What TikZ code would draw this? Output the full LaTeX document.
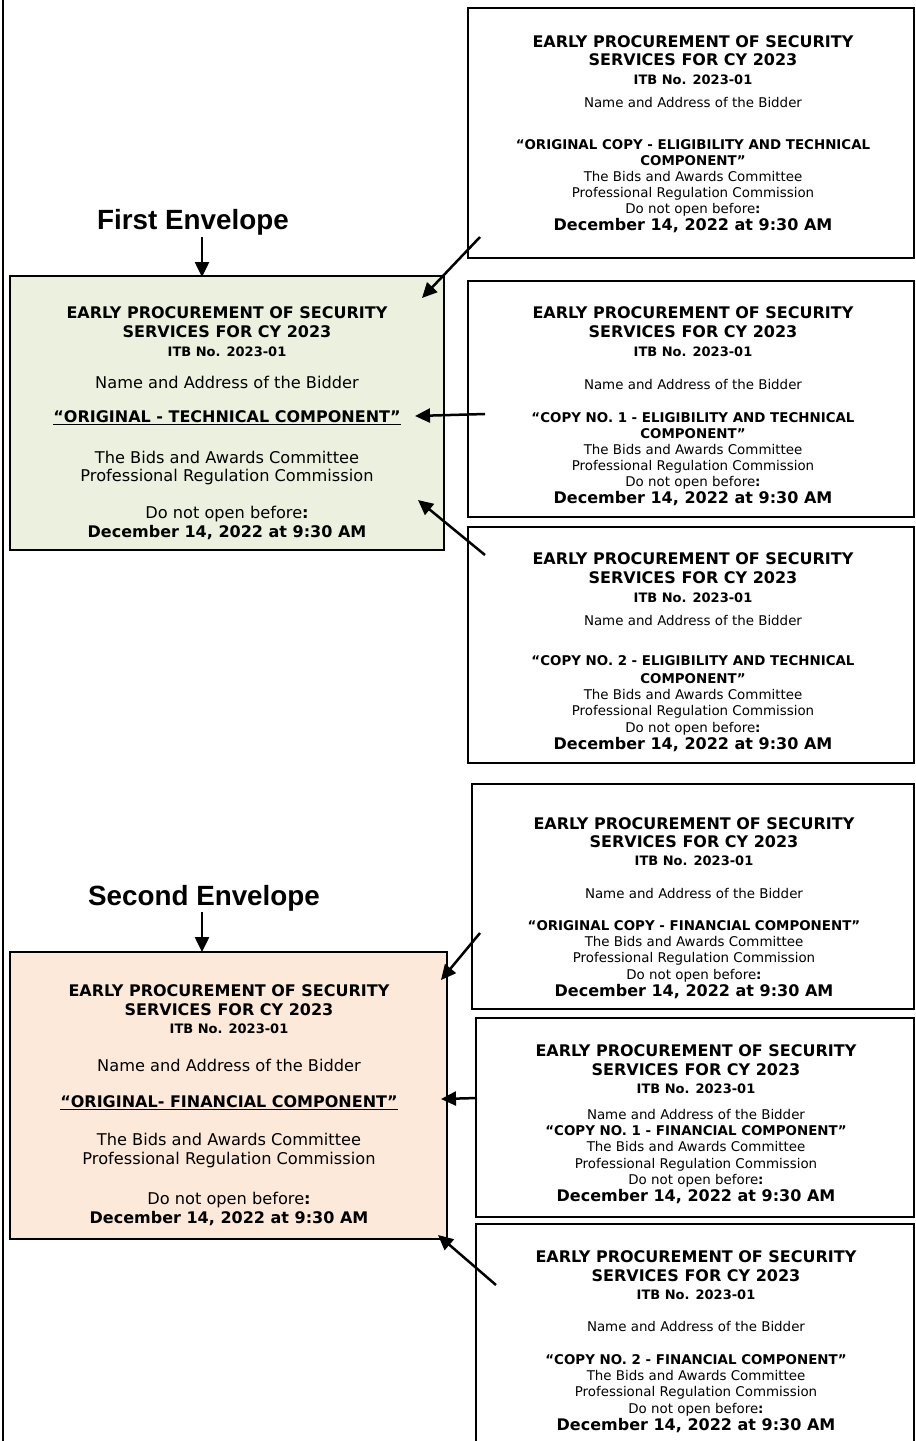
\documentclass[tikz,border=0pt]{standalone}
\usepackage{fontspec}
\setmainfont{DejaVu Sans}
\newfontfamily\lblfont{Liberation Sans}
\usetikzlibrary{arrows.meta}
\definecolor{envgreen}{HTML}{EBF1DE}
\definecolor{envpeach}{HTML}{FDE9D9}
\newcommand\ulq[1]{\setbox0\hbox{#1}\rlap{\rule[-1.3pt]{\wd0}{0.65pt}}\box0}
\newcommand\cardhead[5]{%
  \node[ttl] (#1t1) at (#2,#3) {EARLY PROCUREMENT OF SECURITY};
  \node[ttl] (#1t2) at (#2,#4) {SERVICES FOR CY 2023};
  \node[itb] (#1t3) at (#2,#5) {ITB No. 2023-01};}
\newcommand\cardtail[7]{%
  \node[#3] (#1b) at (#2,#4) {The Bids and Awards Committee};
  \node[#3] (#1p) at (#2,#5) {Professional Regulation Commission};
  \node[#3] (#1d) at (#2,#6) {Do not open before\textbf{:}};
  \node[dec] (#1e) at (#2,#7) {December 14, 2022 at 9:30 AM};}
\tikzset{
  box/.style={draw=black, line width=1pt, inner sep=0pt},
  ln/.style={inner sep=0pt, text height=0.73em, text depth=0pt},
  ttl/.style={ln, font=\bfseries\fontsize{8}{9}\selectfont},
  itb/.style={ln, font=\bfseries\fontsize{6.5}{8}\selectfont},
  sm/.style={ln, font=\fontsize{6.7}{8}\selectfont},
  smb/.style={ln, font=\bfseries\fontsize{6.7}{8}\selectfont},
  dec/.style={ln, font=\bfseries\fontsize{8}{9}\selectfont},
  big/.style={ln, font=\fontsize{8.1}{9}\selectfont},
  bigb/.style={ln, font=\bfseries\fontsize{8}{9}\selectfont},
  lbl/.style={ln, font=\lblfont\bfseries\fontsize{13.9}{16}\selectfont},
  arr/.style={line width=1.25pt, -{Triangle[length=7.5pt,width=7pt]}},
}
\begin{document}
\begin{tikzpicture}[x=0.5pt,y=-0.5pt]
\useasboundingbox (0,0) rectangle (916,1441);
\clip (0,0) rectangle (916,1441);
\fill[white] (0,0) rectangle (916,1441);

% left rule
\coordinate (ltop) at (3,-5);
\coordinate (lbot) at (3,1446);
\draw[line width=1pt] (ltop) -- (lbot);

% ---------- boxes ----------
\node[box, minimum width=223pt, minimum height=125pt] (boxA) at (691,133) {};
\node[box, minimum width=223pt, minimum height=118pt] (boxB) at (691,399) {};
\node[box, minimum width=223pt, minimum height=118pt] (boxC) at (691,645) {};
\node[box, fill=envgreen, minimum width=217pt, minimum height=137pt] (green) at (227,413) {};
\node[box, minimum width=221pt, minimum height=112.5pt] (boxD) at (693,896.5) {};
\node[box, fill=envpeach, minimum width=218.5pt, minimum height=143.5pt] (peach) at (228.5,1095.5) {};
\node[box, minimum width=219pt, minimum height=99.5pt] (boxE) at (695,1117) {};
\node[box, minimum width=219pt, minimum height=118pt] (boxF) at (695,1342) {};

% ---------- box A ----------
\cardhead{A}{693}{40}{58}{77}
\node[sm] (An) at (693,100) {Name and Address of the Bidder};
\node[smb] (Aq1) at (693,142) {“ORIGINAL COPY - ELIGIBILITY AND TECHNICAL};
\node[smb] (Aq2) at (693,158) {COMPONENT”};
\cardtail{A}{693}{sm}{174}{190}{206}{223}

% ---------- box B ----------
\cardhead{B}{693}{311}{330}{349}
\node[sm] (Bn) at (693,382) {Name and Address of the Bidder};
\node[smb] (Bq1) at (693,415) {“COPY NO. 1 - ELIGIBILITY AND TECHNICAL};
\node[smb] (Bq2) at (693,431) {COMPONENT”};
\cardtail{B}{693}{sm}{447}{463}{479}{496}

% ---------- box C ----------
\cardhead{C}{693}{557}{576}{595}
\node[sm] (Cn) at (693,618) {Name and Address of the Bidder};
\node[smb] (Cq1) at (693,658) {“COPY NO. 2 - ELIGIBILITY AND TECHNICAL};
\node[smb] (Cq2) at (693,676) {COMPONENT”};
\cardtail{C}{693}{sm}{692}{708}{725}{742}

% ---------- green (first envelope) ----------
\cardhead{G}{227}{311}{330}{349}
\node[big] (Gn) at (227,381) {Name and Address of the Bidder};
\node[bigb] (Gq) at (227,415) {\ulq{“ORIGINAL - TECHNICAL COMPONENT”}};
\cardtail{G}{227}{big}{456}{474}{511}{530}

% ---------- box D ----------
\cardhead{D}{694}{822}{840}{858}
\node[sm] (Dn) at (694,891) {Name and Address of the Bidder};
\node[smb] (Dq) at (694,923) {“ORIGINAL COPY - FINANCIAL COMPONENT”};
\cardtail{D}{694}{sm}{939}{955}{972}{989}

% ---------- peach (second envelope) ----------
\cardhead{P}{229}{989}{1008}{1026}
\node[big] (Pn) at (229,1064) {Name and Address of the Bidder};
\node[bigb] (Pq) at (229,1100) {\ulq{“ORIGINAL- FINANCIAL COMPONENT”}};
\cardtail{P}{229}{big}{1138}{1157}{1197}{1216}

% ---------- box E ----------
\cardhead{E}{696}{1049}{1068}{1086}
\node[sm] (En) at (696,1112) {Name and Address of the Bidder};
\node[smb] (Eq) at (696,1128) {“COPY NO. 1 - FINANCIAL COMPONENT”};
\cardtail{E}{696}{sm}{1144}{1161}{1177}{1194}

% ---------- box F ----------
\cardhead{F}{696}{1255}{1274}{1292}
\node[sm] (Fn) at (696,1324) {Name and Address of the Bidder};
\node[smb] (Fq) at (696,1357) {“COPY NO. 2 - FINANCIAL COMPONENT”};
\cardtail{F}{696}{sm}{1373}{1389}{1406}{1423}

% ---------- labels ----------
\node[lbl] (lbl1) at (193,222) {First Envelope};
\node[lbl] (lbl2) at (204,898) {Second Envelope};

% ---------- arrows ----------
\coordinate (e1s) at (202,237);  \coordinate (e1t) at (202,277);
\coordinate (e2s) at (202,912);  \coordinate (e2t) at (202,952);
\coordinate (aS) at (480,237);   \coordinate (aT) at (422,298);
\coordinate (bS) at (485,414);   \coordinate (bT) at (415,416);
\coordinate (cS) at (485,555);   \coordinate (cT) at (418,500);
\coordinate (dS) at (480,933);   \coordinate (dT) at (441,980);
\coordinate (eS) at (477,1098);  \coordinate (eT) at (441,1099);
\coordinate (fS) at (496,1285);  \coordinate (fT) at (438,1235);
\draw[arr] (e1s) -- (e1t);
\draw[arr] (e2s) -- (e2t);
\draw[arr] (aS) -- (aT);
\draw[arr] (bS) -- (bT);
\draw[arr] (cS) -- (cT);
\draw[arr] (dS) -- (dT);
\draw[arr] (eS) -- (eT);
\draw[arr] (fS) -- (fT);
\end{tikzpicture}
\end{document}
